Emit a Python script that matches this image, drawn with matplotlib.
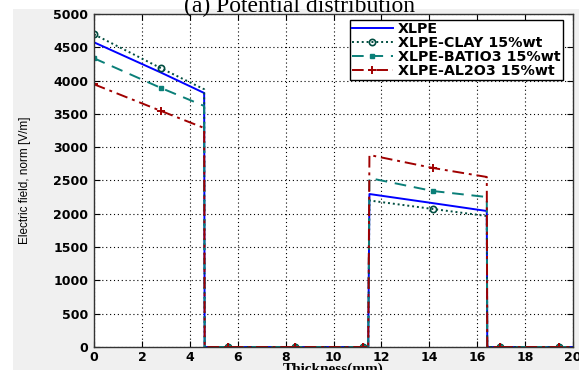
import matplotlib
matplotlib.use("Agg")
import matplotlib.pyplot as plt
from matplotlib.patches import Rectangle

# thickness positions (mm)
thickness = [0, 2.8, 4.6, 4.62, 5.6, 8.4, 11.25, 11.45, 11.5, 14.15, 16.4, 16.42, 16.95, 19.4, 20]

xlpe = [4575, 4120, 3814, 0, 0, 0, 0, 0, 2297, 2160, 2042, 0, 0, 0, 0]
clay = [4695, 4185, 3870, 0, 0, 0, 0, 0, 2200, 2072, 1967, 0, 0, 0, 0]
batio3 = [4335, 3889, 3619, 0, 0, 0, 0, 0, 2537, 2342, 2252, 0, 0, 0, 0]
al2o3 = [3945, 3544, 3288, 0, 0, 0, 0, 0, 2883, 2688, 2553, 0, 0, 0, 0]

labels = ["XLPE", "XLPE-CLAY 15%wt", "XLPE-BATIO3 15%wt", "XLPE-AL2O3 15%wt"]
marker_idx = [0, 1, 4, 5, 6, 9, 12, 13]

fig = plt.figure(figsize=(5.79, 3.70), dpi=100, facecolor="#f0f0f0")
fig.patches.append(Rectangle((0, 1 - 9 / 370), 1, 9 / 370, transform=fig.transFigure,
                             facecolor="white", edgecolor="none", zorder=-1))
fig.patches.append(Rectangle((0, 0), 13 / 579, 1, transform=fig.transFigure,
                             facecolor="white", edgecolor="none", zorder=-1))
ax = fig.add_axes([94 / 579, 1 - 347 / 370, 479 / 579, 333 / 370])

ax.plot(thickness, xlpe, color="#0000ff", lw=1.4, label=labels[0])
ax.plot(thickness, clay, color="#004d40", lw=1.4, ls=(0, (1, 1.5)), marker="o", ms=4.5,
        mfc="none", mew=1.2, markevery=marker_idx, label=labels[1])
ax.plot(thickness, batio3, color="#0a7f78", lw=1.4, ls=(0, (6, 4)), marker="s", ms=2.5,
        markevery=marker_idx, label=labels[2])
ax.plot(thickness, al2o3, color="#a00000", lw=1.4, ls=(0, (6, 2.5, 1.5, 2.5)), marker="+",
        ms=6, mew=1.4, markevery=marker_idx, label=labels[3])

ax.set_xlim(0, 20)
ax.set_ylim(0, 5000)
ax.set_xticks(range(0, 21, 2))
ax.set_yticks(range(0, 5001, 500))
ax.grid(True, color="black", ls=(0, (1, 2.5)), lw=0.8)
ax.tick_params(direction="in", top=True, right=True, length=4, labelsize=9, pad=4)
ax.tick_params(axis="x", pad=3)
for lab in ax.get_xticklabels() + ax.get_yticklabels():
    lab.set_fontweight("bold")
for sp in ax.spines.values():
    sp.set_color("#333333")
    sp.set_linewidth(1.0)

leg = ax.legend(loc="upper right", bbox_to_anchor=(563 / 579, 1 - 20 / 370),
                bbox_transform=fig.transFigure, prop={"weight": "bold", "size": 10.3},
                fancybox=False, edgecolor="black", framealpha=1, borderpad=0.15,
                labelspacing=0.0, handlelength=2.8, handletextpad=0.4, borderaxespad=0)
leg.get_frame().set_linewidth(1.0)

fig.text(300 / 579, 1 - 12 / 370, "(a) Potential distribution", ha="center", va="baseline",
         family="Liberation Serif", fontsize=17)
fig.text(333 / 579, 1 - 373 / 370, "Thickness(mm)", ha="center", va="baseline",
         family="Liberation Serif", fontsize=11, fontweight="bold")
fig.text(25 / 579, 1 - 180 / 370, "Electric field, norm [V/m]", ha="center", va="center",
         rotation=90, family=["Liberation Sans Narrow", "Liberation Sans"], fontsize=8.5)

fig.savefig("out.png", dpi=100, facecolor=fig.get_facecolor())
